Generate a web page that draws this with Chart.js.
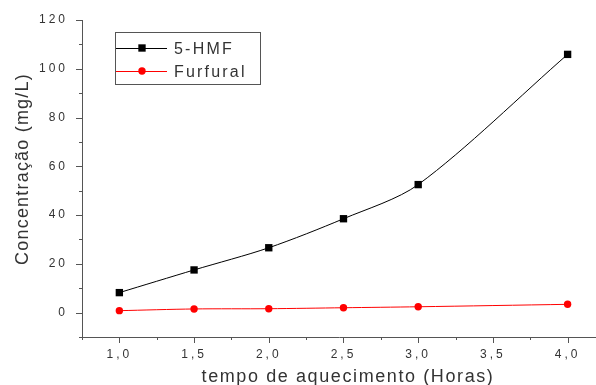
<!DOCTYPE html>
<html>
<head>
<meta charset="utf-8">
<script src="https://cdn.jsdelivr.net/npm/chart.js@4.4.0/dist/chart.umd.min.js"></script>
<style>
  html, body { margin: 0; padding: 0; background: #fff; }
  #wrap { width: 596px; height: 385px; }
</style>
</head>
<body>
<div id="wrap"><canvas id="chart" width="596" height="385"></canvas></div>
<script>
// values
const horas = [1.0, 1.5, 2.0, 2.5, 3.0, 4.0];
const hmf = [8.2, 17.5, 26.6, 38.5, 52.5, 105.9];
const furfural = [0.8, 1.5, 1.6, 2.0, 2.4, 3.4];

// axis ticks
const xMajor = [1.0, 1.5, 2.0, 2.5, 3.0, 3.5, 4.0];
const xLabels = ['1,0', '1,5', '2,0', '2,5', '3,0', '3,5', '4,0'];
const xMinor = [0.75, 1.25, 1.75, 2.25, 2.75, 3.25, 3.75];
const yMajor = [0, 20, 40, 60, 80, 100, 120];
const yLabels = ['0', '20', '40', '60', '80', '100', '120'];
const yMinor = [-10, 10, 30, 50, 70, 90, 110];

const xTitle = 'tempo de aquecimento (Horas)';
const yTitle = 'Concentração (mg/L)';

const TEXT = '#333';
const AXIS = '#555';
const FONT = '"Liberation Sans", Arial, sans-serif';

// tick marks: long for labelled ticks, short for minor ones
const tickMarks = {
  id: 'tickMarks',
  afterDraw(chart) {
    const ctx = chart.ctx;
    const x = chart.scales.x, y = chart.scales.y;
    ctx.save();
    ctx.strokeStyle = AXIS;
    ctx.lineWidth = 1;
    ctx.beginPath();
    const xt = (v, len) => {
      const px = Math.round(x.getPixelForValue(v)) + 0.5;
      ctx.moveTo(px, x.top);
      ctx.lineTo(px, x.top + len);
    };
    const yt = (v, len) => {
      const py = Math.round(y.getPixelForValue(v)) + 0.5;
      ctx.moveTo(y.right, py);
      ctx.lineTo(y.right - len, py);
    };
    xMajor.forEach(v => xt(v, 6));
    xMinor.forEach(v => xt(v, 3));
    yMajor.forEach(v => yt(v, 6));
    yMinor.forEach(v => yt(v, 3));
    ctx.stroke();

    // axis titles
    ctx.fillStyle = TEXT;
    ctx.font = '18px ' + FONT;
    ctx.letterSpacing = '1.6px';
    ctx.textAlign = 'center';
    ctx.textBaseline = 'alphabetic';
    ctx.fillText(xTitle, 348, 382);
    ctx.save();
    ctx.translate(28, 169);
    ctx.rotate(-Math.PI / 2);
    ctx.letterSpacing = '1.2px';
    ctx.fillText(yTitle, 0, 0);
    ctx.restore();
    ctx.restore();
  }
};

// boxed legend inside the plot
const boxLegend = {
  id: 'boxLegend',
  afterDraw(chart) {
    const ctx = chart.ctx;
    const a = chart.chartArea;
    const bx = a.left + 33, by = a.top + 12;
    ctx.save();
    ctx.strokeStyle = AXIS;
    ctx.lineWidth = 1;
    ctx.strokeRect(bx + 0.5, by + 0.5, 145, 52);
    chart.data.datasets.forEach((ds, i) => {
      const cy = by + 16 + i * 23;
      ctx.strokeStyle = ds.borderColor;
      ctx.beginPath();
      ctx.moveTo(bx + 1, cy + 0.5);
      ctx.lineTo(bx + 52, cy + 0.5);
      ctx.stroke();
      ctx.fillStyle = ds.pointBackgroundColor;
      Chart.helpers.drawPoint(ctx, { pointStyle: ds.pointStyle, radius: ds.pointRadius, borderWidth: 0 }, bx + 27, cy);
      ctx.fillStyle = TEXT;
      ctx.font = '16px ' + FONT;
      ctx.letterSpacing = '2.2px';
      ctx.textAlign = 'left';
      ctx.textBaseline = 'alphabetic';
      ctx.fillText(ds.label, bx + 59, cy + 5.5);
    });
    ctx.restore();
  }
};

// wider letter spacing for tick labels
const spacing = {
  id: 'spacing',
  beforeDraw(chart) { chart.ctx.letterSpacing = '3px'; }
};

new Chart(document.getElementById('chart'), {
  type: 'line',
  data: {
    datasets: [
      {
        label: '5-HMF',
        data: horas.map((h, i) => ({ x: h, y: hmf[i] })),
        borderColor: '#000',
        borderWidth: 1,
        pointStyle: 'rect',
        pointRadius: 5.2,
        pointBorderWidth: 0,
        pointBackgroundColor: '#000',
        tension: 0.3
      },
      {
        label: 'Furfural',
        data: horas.map((h, i) => ({ x: h, y: furfural[i] })),
        borderColor: '#ff0000',
        borderWidth: 1,
        pointStyle: 'circle',
        pointRadius: 3.7,
        pointBorderWidth: 0,
        pointBackgroundColor: '#ff0000',
        tension: 0.3
      }
    ]
  },
  options: {
    responsive: false,
    animation: false,
    layout: { autoPadding: false, padding: { top: 20, right: 0, left: 0, bottom: 0 } },
    plugins: { legend: { display: false }, tooltip: { enabled: false } },
    scales: {
      x: {
        type: 'linear',
        min: 0.75,
        max: 4.19,
        afterBuildTicks: s => { s.ticks = xMajor.map(v => ({ value: v })); },
        afterFit: s => { s.height = 48; s.paddingLeft = 0; s.paddingRight = 0; },
        grid: { display: false, drawTicks: false },
        border: { display: true, color: AXIS, width: 1 },
        ticks: {
          padding: 10,
          color: TEXT,
          font: { family: FONT, size: 12 },
          maxRotation: 0,
          callback: v => xLabels[xMajor.indexOf(v)] ?? ''
        }
      },
      y: {
        min: -10,
        max: 120,
        afterBuildTicks: s => { s.ticks = yMajor.map(v => ({ value: v })); },
        afterFit: s => { s.width = 82; s.paddingTop = 0; s.paddingBottom = 0; },
        grid: { display: false, drawTicks: false },
        border: { display: true, color: AXIS, width: 1 },
        ticks: {
          padding: 14,
          color: TEXT,
          font: { family: FONT, size: 12 },
          callback: v => yLabels[yMajor.indexOf(v)] ?? ''
        }
      }
    }
  },
  plugins: [spacing, tickMarks, boxLegend]
});
</script>
</body>
</html>
